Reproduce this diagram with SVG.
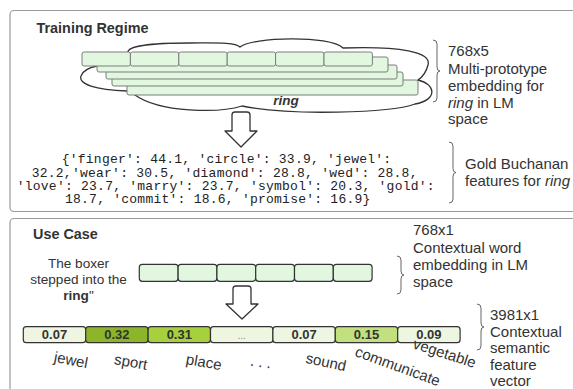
<svg xmlns="http://www.w3.org/2000/svg" width="573" height="389" viewBox="0 0 573 389">
<style>
.panel{fill:#fff;stroke:#9a9a9a;stroke-width:1.2}
.title{font-family:"Liberation Sans",Arial,sans-serif;font-weight:bold;font-size:14.4px;fill:#333}
.lab{font-family:"Liberation Sans",Arial,sans-serif;font-size:15px;fill:#333}
.sent{font-family:"Liberation Sans",Arial,sans-serif;font-size:13.6px;fill:#333;text-anchor:middle}
.code{font-family:"Liberation Mono","Courier New",monospace;font-size:13px;letter-spacing:0.24px;fill:#222}
.stk{fill:#e2f7df;stroke:#7d7d7d;stroke-width:1}
.emb{fill:#e2f7df;stroke:#333;stroke-width:1.2}
.feat{stroke:#333;stroke-width:1.2}
.num{font-family:"Liberation Sans",Arial,sans-serif;font-weight:bold;font-size:13px;fill:#333;text-anchor:middle}
.word{font-family:"Liberation Sans",Arial,sans-serif;font-size:15px;fill:#333;text-anchor:middle}
.brace{fill:none;stroke:#666;stroke-width:1}
.arrow{fill:#fff;stroke:#333;stroke-width:1.3;stroke-linejoin:round}
.cloud{fill:#fff;stroke:#333;stroke-width:1.3}
</style>
<g id="panel-training">
<rect class="panel" x="10" y="10.5" width="600" height="201" rx="4"/>
<text class="title" x="36.5" y="32.5">Training Regime</text>
</g>
<g id="panel-usecase">
<rect class="panel" x="10" y="218.5" width="600" height="200" rx="4"/>
<text class="title" x="33" y="239">Use Case</text>
</g>
<g id="multi-prototype">
<path class="cloud" d="M128,52 C128,44 170,43 190,43 C215,43 235,42 240,47 C252,37 330,35 343,48 C400,46 432,52 428,65 C426,73 421,78 418,80 C436,84 438,100 415,104 C390,113 290,116 242,106 C220,113 160,113 135,95 L127,91 C95,90 78,84 81,76 C83,70 92,67 97,66 Z"/>
<rect class="stk" x="127" y="80" width="291" height="15" rx="2"/>
<rect class="stk" x="112" y="72" width="291" height="14" rx="2"/>
<rect class="stk" x="106" y="65" width="291" height="14" rx="2"/>
<rect class="stk" x="97" y="57" width="291" height="15" rx="2"/>
<rect class="stk" x="82" y="52" width="48.4" height="14" rx="2"/>
<rect class="stk" x="130.4" y="52" width="48.4" height="14" rx="2"/>
<rect class="stk" x="178.8" y="52" width="48.4" height="14" rx="2"/>
<rect class="stk" x="227.2" y="52" width="48.4" height="14" rx="2"/>
<rect class="stk" x="275.6" y="52" width="48.4" height="14" rx="2"/>
<rect class="stk" x="324" y="52" width="48.4" height="14" rx="2"/>
<text x="286" y="105" font-family="Liberation Sans, Arial, sans-serif" font-size="13.5" font-weight="bold" font-style="italic" fill="#333" text-anchor="middle">ring</text>
</g>
<g id="label-multi">
<path class="brace" d="M433,40 Q437,40 437,44 L437,67 Q437,71 440,71 Q437,71 437,75 L437,98 Q437,102 433,102"/>
<text class="lab" x="448" y="56">768x5</text>
<text class="lab" x="448" y="74">Multi-prototype</text>
<text class="lab" x="448" y="91">embedding for</text>
<text class="lab" x="448" y="107.5"><tspan font-style="italic">ring</tspan> in LM</text>
<text class="lab" x="448" y="124">space</text>
</g>
<g id="gold-features">
<text class="code" x="61.7" y="163.3" xml:space="preserve">{'finger': 44.1, 'circle': 33.9, 'jewel':</text>
<text class="code" x="31.7" y="176.7" xml:space="preserve">32.2,'wear': 30.5, 'diamond': 28.8, 'wed': 28.8,</text>
<text class="code" x="16.7" y="189.7" xml:space="preserve">'love': 23.7, 'marry': 23.7, 'symbol': 20.3, 'gold':</text>
<text class="code" x="65" y="203" xml:space="preserve">18.7, 'commit': 18.6, 'promise': 16.9}</text>
</g>
<g id="label-gold">
<path class="brace" d="M449,142 Q453,142 453,146 L453,168.5 Q453,172.5 456,172.5 Q453,172.5 453,176.5 L453,199 Q453,203 449,203"/>
<text class="lab" x="465" y="169">Gold Buchanan</text>
<text class="lab" x="465" y="186">features for <tspan font-style="italic">ring</tspan></text>
</g>
<g id="sentence">
<text class="sent" x="78.5" y="268">The boxer</text>
<text class="sent" x="78.5" y="284">stepped into the</text>
<text class="sent" x="78.5" y="300"><tspan font-weight="bold">ring</tspan>"</text>
</g>
<g id="contextual-embedding">
<rect class="emb" x="139.3" y="264.3" width="38.8" height="17" rx="3"/>
<rect class="emb" x="178.1" y="264.3" width="38.8" height="17" rx="3"/>
<rect class="emb" x="216.9" y="264.3" width="38.8" height="17" rx="3"/>
<rect class="emb" x="255.7" y="264.3" width="38.8" height="17" rx="3"/>
<rect class="emb" x="294.5" y="264.3" width="38.8" height="17" rx="3"/>
<rect class="emb" x="333.3" y="264.3" width="38.8" height="17" rx="3"/>
</g>
<g id="label-contextual">
<path class="brace" d="M397,256 Q401,256 401,260 L401,271 Q401,275 404,275 Q401,275 401,279 L401,290 Q401,294 397,294"/>
<text class="lab" x="413" y="235">768x1</text>
<text class="lab" x="413" y="253">Contextual word</text>
<text class="lab" x="413" y="270">embedding in LM</text>
<text class="lab" x="413" y="287">space</text>
</g>
<g id="feature-vector">
<rect class="feat" x="23.3" y="326.7" width="62.4" height="16" rx="3" fill="#eef6e2"/>
<rect class="feat" x="85.7" y="326.7" width="62.4" height="16" rx="3" fill="#8cb52a"/>
<rect class="feat" x="148.1" y="326.7" width="62.4" height="16" rx="3" fill="#a6d03e"/>
<rect class="feat" x="210.5" y="326.7" width="62.4" height="16" rx="3" fill="#eef6e2"/>
<rect class="feat" x="272.9" y="326.7" width="62.4" height="16" rx="3" fill="#eef6e2"/>
<rect class="feat" x="335.3" y="326.7" width="62.4" height="16" rx="3" fill="#c3e07e"/>
<rect class="feat" x="397.7" y="326.7" width="62.4" height="16" rx="3" fill="#eef6e2"/>
<text class="num" x="54.5" y="339.3">0.07</text>
<text class="num" x="116.9" y="339.3">0.32</text>
<text class="num" x="179.3" y="339.3">0.31</text>
<text x="241.7" y="339" font-family="Liberation Sans, Arial, sans-serif" font-size="10" fill="#888" text-anchor="middle">...</text>
<text class="num" x="304.1" y="339.3">0.07</text>
<text class="num" x="366.5" y="339.3">0.15</text>
<text class="num" x="428.9" y="339.3">0.09</text>
<text class="word" transform="translate(70,365) rotate(11)">jewel</text>
<text class="word" transform="translate(130,367) rotate(10)">sport</text>
<text class="word" transform="translate(203,367) rotate(10)">place</text>
<text class="word" transform="translate(260,367) rotate(8)">. . .</text>
<text class="word" transform="translate(325,367) rotate(12)">sound</text>
<text class="word" transform="translate(396,371) rotate(20)">communicate</text>
<text class="word" transform="translate(443,358) rotate(18)">vegetable</text>
</g>
<g id="label-feature">
<path class="brace" d="M477,304 Q481,304 481,308 L481,323 Q481,327 484,327 Q481,327 481,331 L481,346 Q481,350 477,350"/>
<text class="lab" x="490" y="320">3981x1</text>
<text class="lab" x="490" y="337">Contextual</text>
<text class="lab" x="490" y="353">semantic</text>
<text class="lab" x="490" y="370">feature</text>
<text class="lab" x="490" y="386">vector</text>
</g>
<g id="connectors">
<path class="arrow" d="M232,131 L232,115 Q232,112 235,112 L247,112 Q250,112 250,115 L250,131 L257,131 L241,147 L225,131 Z"/>
<path class="arrow" d="M233,304 L233,289 Q233,286 236,286 L248,286 Q251,286 251,289 L251,304 L258,304 L242,319 L226,304 Z"/>
</g>
</svg>
